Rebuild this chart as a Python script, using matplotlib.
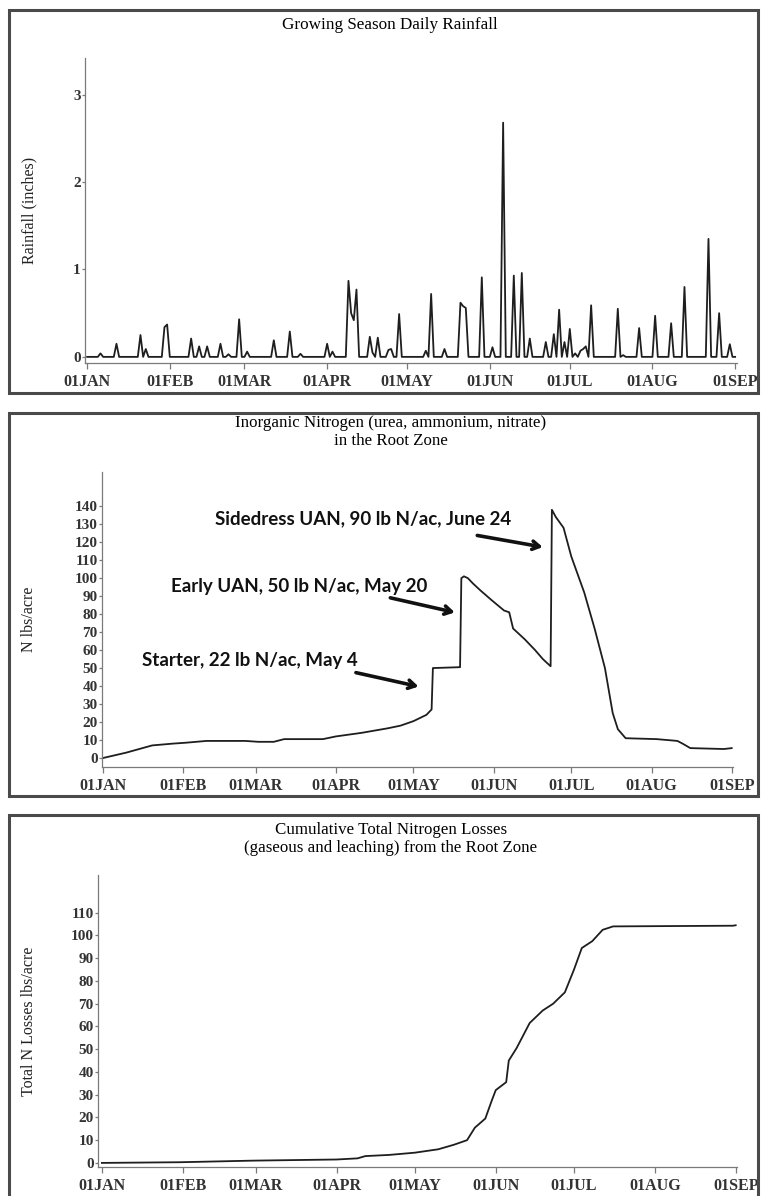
import matplotlib
matplotlib.use("Agg")
import matplotlib.pyplot as plt
import matplotlib.patches as mpatches
import numpy as np

plt.rcParams['font.family'] = ['Liberation Serif', 'DejaVu Serif']

# x values are days after 01JAN (non-leap year)
month_days = [0, 31, 59, 90, 120, 151, 181, 212, 243]
month_labels = ['01JAN', '01FEB', '01MAR', '01APR', '01MAY',
                '01JUN', '01JUL', '01AUG', '01SEP']

# daily rainfall: only the days with rain, all other days are 0
rain_day = [5, 11, 20, 22, 29, 30, 39, 42, 45, 50, 53, 57, 60, 70, 76, 80,
            90, 92, 98, 99, 100, 101, 106, 107, 109, 113, 114, 117, 127, 129,
            134, 140, 141, 142, 148, 152, 156, 160, 163, 166, 172, 175, 177,
            179, 181, 183, 185, 186, 187, 189, 199, 201, 207, 213, 219, 224,
            233, 237, 241]
rain_in = [0.04, 0.15, 0.25, 0.09, 0.34, 0.37, 0.21, 0.12, 0.12, 0.15, 0.03,
           0.43, 0.06, 0.19, 0.29, 0.035, 0.15, 0.06, 0.87, 0.50, 0.42, 0.77,
           0.23, 0.05, 0.22, 0.08, 0.09, 0.49, 0.07, 0.72, 0.09, 0.62, 0.58,
           0.56, 0.91, 0.11, 2.68, 0.93, 0.96, 0.21, 0.17, 0.26, 0.54, 0.17,
           0.32, 0.04, 0.07, 0.09, 0.12, 0.59, 0.55, 0.02, 0.33, 0.47, 0.385,
           0.80, 1.35, 0.50, 0.145]
n_days = 244

# inorganic N in root zone (lbs/acre)
n_day = [0, 9, 19, 27, 32, 40, 55, 60, 66, 70, 85, 90, 100, 110, 115, 120,
         125, 127, 127.5, 138, 138.5, 139.5, 141, 143, 146, 150, 155, 157,
         158.5, 163, 167, 170, 173, 173.5, 175, 178, 181, 186, 190, 194, 197,
         199, 202, 214, 222, 224, 227, 240, 243]
n_val = [0, 3, 7, 8, 8.5, 9.5, 9.5, 9, 9, 10.5, 10.5, 12, 14, 16.5, 18, 20.5,
         24, 27, 50, 50.5, 100, 101, 100, 97, 93, 88, 82, 81, 72, 66, 60, 55,
         51, 138, 134, 128, 112, 92, 72, 50, 25, 16, 11, 10.5, 9.5, 8, 5.5,
         5, 5.5]

# cumulative total N losses (lbs/acre)
loss_day = [0, 30, 58, 90, 98, 101, 110, 120, 129, 135, 140, 143, 147, 149.5,
            151, 155, 156, 159, 164, 169, 173, 177.5, 181, 184, 188, 192, 196,
            242, 243]
loss_val = [0, 0.3, 1, 1.5, 2, 3, 3.5, 4.5, 6, 8, 10, 15.5, 19.5, 27.5, 32,
            35.5, 45, 50.5, 61.5, 67, 70, 75, 85, 94.5, 97.5, 102.5, 104,
            104.3, 104.5]

notes = ['Sidedress UAN, 90 lb N/ac, June 24',
         'Early UAN, 50 lb N/ac, May 20',
         'Starter, 22 lb N/ac, May 4']
note_xy = [(100.6, 133), (75.9, 95.6), (56.7, 54.4)]
arrow_tail = [(143.6, 124), (110, 89.4), (96.7, 47.8)]
arrow_head = [(171, 117), (137, 80.6), (123, 39.4)]

W, H = 763, 1196
fig = plt.figure(figsize=(W / 100, H / 100), dpi=100)

line_color = '#1e1e1e'
axis_color = '#7a7a7a'


def frame(top, bottom):
    """Grey box drawn around each panel."""
    rect = mpatches.Rectangle((9 / W, 1 - bottom / H), (758 - 9) / W,
                              (bottom - top) / H, transform=fig.transFigure,
                              fill=False, edgecolor='#4a4a4a', linewidth=2.2,
                              clip_on=False)
    fig.patches.append(rect)


def panel(left, right, top, bottom):
    ax = fig.add_axes([left / W, 1 - bottom / H, (right - left) / W,
                       (bottom - top) / H])
    for s in ['top', 'right']:
        ax.spines[s].set_visible(False)
    for s in ['left', 'bottom']:
        ax.spines[s].set_color(axis_color)
        ax.spines[s].set_linewidth(0.9)
    ax.set_xticks(month_days)
    ax.set_xticklabels(month_labels)
    ax.tick_params(axis='x', direction='out', length=4, width=0.9,
                   color=axis_color, labelsize=11.5, pad=4)
    ax.tick_params(axis='y', direction='out', length=2, width=0.9,
                   color=axis_color, labelsize=11, pad=1)
    for lab in ax.get_xticklabels() + ax.get_yticklabels():
        lab.set_fontweight('bold')
        lab.set_color('#333333')
    return ax


def ylabel(ax, text, left, right):
    ax.set_ylabel(text, fontsize=11.5, color='#222222')
    ax.yaxis.set_label_coords((37 - left) / (right - left), 0.5)


# ---- panel 1: rainfall ----
frame(10, 393)
rain = np.zeros(n_days)
rain[rain_day] = rain_in
ax1 = panel(85, 737, 58, 363)
ax1.plot(np.arange(n_days), rain, color=line_color, linewidth=1.3)
ax1.set_xlim(-0.8, 243.7)
ax1.set_ylim(-0.07, 3.42)
ax1.set_yticks([0, 1, 2, 3])
ylabel(ax1, 'Rainfall (inches)', 85, 737)
fig.text(390 / W, 1 - 25 / H, 'Growing Season Daily Rainfall',
         ha='center', va='center', fontsize=12.3)

# ---- panel 2: inorganic N ----
frame(413, 796)
ax2 = panel(102, 733, 472, 767)
ax2.plot(n_day, n_val, color=line_color, linewidth=1.3)
ax2.set_xlim(-0.4, 243.5)
ax2.set_ylim(-5, 159)
ax2.set_yticks(range(0, 150, 10))
ylabel(ax2, 'N lbs/acre', 102, 733)
fig.text(391 / W, 1 - 432 / H,
         'Inorganic Nitrogen (urea, ammonium, nitrate)\nin the Root Zone',
         ha='center', va='center', fontsize=12.2, linespacing=1.2)
for txt, xy, tail, head in zip(notes, note_xy, arrow_tail, arrow_head):
    ax2.text(xy[0], xy[1], txt, ha='center', va='center', fontsize=13.5,
             fontweight='bold', family=['Lato', 'DejaVu Sans'], color='#111111')
    ax2.annotate('', xy=head, xytext=tail,
                 arrowprops=dict(arrowstyle='->,head_length=0.5,head_width=0.3',
                                 color='#111111', lw=2.6))

# ---- panel 3: cumulative N losses ----
frame(815, 1215)
ax3 = panel(98, 737, 875, 1167)
ax3.plot(loss_day, loss_val, color=line_color, linewidth=1.3)
ax3.set_xlim(-1.5, 243.5)
ax3.set_ylim(-1.8, 126.6)
ax3.set_yticks(range(0, 120, 10))
ylabel(ax3, 'Total N Losses lbs/acre', 98, 737)
fig.text(391 / W, 1 - 839 / H,
         'Cumulative Total Nitrogen Losses\n(gaseous and leaching) from the Root Zone',
         ha='center', va='center', fontsize=12.2, linespacing=1.2)

fig.savefig('out.png', dpi=100)
